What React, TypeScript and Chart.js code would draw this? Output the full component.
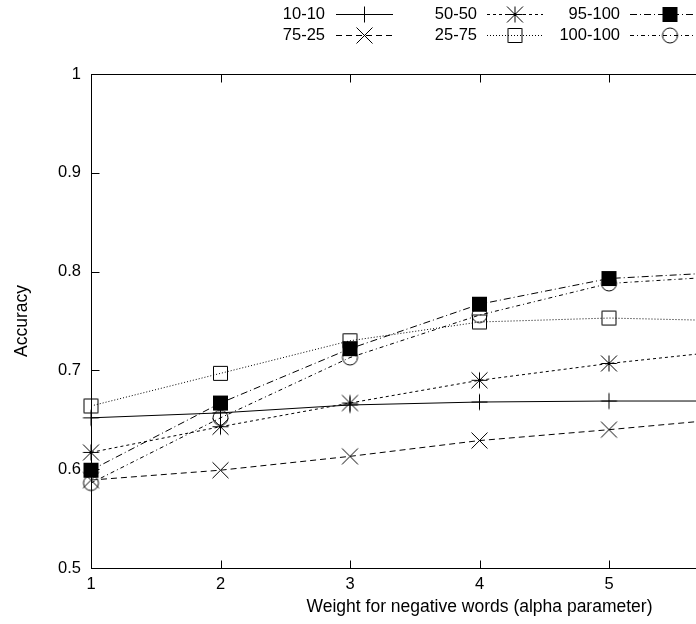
import React, { useEffect, useRef } from 'react';
import { Chart, registerables } from 'chart.js';

Chart.register(...registerables);

// ---- data ----
const alphaValues = [1, 2, 3, 4, 5, 6];
const seriesNames = ['10-10', '75-25', '50-50', '25-75', '95-100', '100-100'];
const acc10_10 = [0.652, 0.657, 0.665, 0.668, 0.669, 0.669];
const acc75_25 = [0.589, 0.599, 0.613, 0.629, 0.640, 0.652];
const acc50_50 = [0.617, 0.643, 0.667, 0.690, 0.707, 0.721];
const acc25_75 = [0.664, 0.697, 0.730, 0.749, 0.753, 0.750];
const acc95_100 = [0.599, 0.667, 0.722, 0.767, 0.793, 0.800];
const acc100_100 = [0.586, 0.652, 0.713, 0.756, 0.788, 0.796];
const xTickValues = [1, 2, 3, 4, 5, 6, 7];
const yTickValues = [0.5, 0.6, 0.7, 0.8, 0.9, 1];
const xTitle = 'Weight for negative words (alpha parameter)';
const yTitle = 'Accuracy';

const seriesValues = [acc10_10, acc75_25, acc50_50, acc25_75, acc95_100, acc100_100];
const seriesDash = [[], [6, 4], [3, 3], [1, 2], [7, 3, 1, 3], [4, 3, 1, 3]];
const seriesMarker = ['plus', 'x', 'star', 'square', 'filled', 'circle'];

const FONT_FAMILY = "'Liberation Sans', Arial, Helvetica, sans-serif";

function makeMarker(kind: string): HTMLCanvasElement {
  const c = document.createElement('canvas');
  c.width = 25;
  c.height = 25;
  const g = c.getContext('2d')!;
  g.strokeStyle = '#000';
  g.fillStyle = '#000';
  g.lineWidth = 1;
  const m = 12.5;
  const h = 8;
  g.beginPath();
  if (kind === 'plus' || kind === 'star') {
    g.moveTo(m, m - h);
    g.lineTo(m, m + h);
    g.moveTo(m - h, m);
    g.lineTo(m + h, m);
  }
  if (kind === 'x' || kind === 'star') {
    g.moveTo(m - h, m - h);
    g.lineTo(m + h, m + h);
    g.moveTo(m + h, m - h);
    g.lineTo(m - h, m + h);
  }
  if (kind === 'square') {
    g.rect(5.5, 5.5, 14, 14);
  }
  if (kind === 'circle') {
    g.arc(m, m, 7.5, 0, Math.PI * 2);
  }
  g.stroke();
  if (kind === 'filled') {
    g.fillRect(5, 5, 15, 15);
  }
  return c;
}

export default function App() {
  const ref = useRef<HTMLCanvasElement>(null);

  useEffect(() => {
    const canvas = ref.current;
    if (!canvas) return;
    const markers = seriesMarker.map(makeMarker);
    const tickFont = { family: FONT_FAMILY, size: 16.5 };
    const titleFont = { family: FONT_FAMILY, size: 17.5 };

    const framePlugin = {
      id: 'gnuFrame',
      beforeDatasetsDraw(chart: any) {
        const { ctx, chartArea } = chart;
        const xs = chart.scales.x;
        const ys = chart.scales.y;
        const L = Math.round(chartArea.left) + 0.5;
        const R = Math.round(chartArea.right) + 0.5;
        const T = Math.round(chartArea.top) + 0.5;
        const B = Math.round(chartArea.bottom) + 0.5;
        ctx.save();
        ctx.strokeStyle = '#000';
        ctx.lineWidth = 1;
        ctx.setLineDash([]);
        ctx.strokeRect(L, T, R - L, B - T);
        ctx.beginPath();
        const tl = 8;
        xTickValues.forEach((v) => {
          const px = Math.round(xs.getPixelForValue(v)) + 0.5;
          ctx.moveTo(px, B);
          ctx.lineTo(px, B - tl);
          ctx.moveTo(px, T);
          ctx.lineTo(px, T + tl);
        });
        yTickValues.forEach((v) => {
          const py = Math.round(ys.getPixelForValue(v)) + 0.5;
          ctx.moveTo(L, py);
          ctx.lineTo(L + tl, py);
          ctx.moveTo(R, py);
          ctx.lineTo(R - tl, py);
        });
        ctx.stroke();
        ctx.restore();
      },
    };

    const legendCols = [
      { textRight: 325, lineStart: 336, lineEnd: 393, marker: 364.5 },
      { textRight: 477, lineStart: 487, lineEnd: 543, marker: 515 },
      { textRight: 620, lineStart: 630, lineEnd: 712, marker: 670 },
    ];
    const legendRows = [14, 34.5];

    const legendPlugin = {
      id: 'gnuLegend',
      afterDraw(chart: any) {
        const { ctx } = chart;
        ctx.save();
        ctx.font = `16.5px ${FONT_FAMILY}`;
        ctx.fillStyle = '#000';
        ctx.textAlign = 'right';
        ctx.textBaseline = 'middle';
        seriesNames.forEach((name, i) => {
          const col = legendCols[Math.floor(i / 2)];
          const y = legendRows[i % 2];
          ctx.fillText(name, col.textRight, y + 0.5);
          ctx.beginPath();
          ctx.strokeStyle = '#000';
          ctx.lineWidth = 1;
          ctx.setLineDash(seriesDash[i]);
          ctx.moveTo(col.lineStart, Math.round(y) + 0.5);
          ctx.lineTo(col.lineEnd, Math.round(y) + 0.5);
          ctx.stroke();
          ctx.setLineDash([]);
          ctx.drawImage(markers[i], col.marker - 12.5, Math.round(y) + 0.5 - 12.5);
        });
        ctx.restore();
      },
    };

    const datasets = seriesNames.map((name, i) => ({
      label: name,
      data: alphaValues.map((a, j) => ({ x: a, y: seriesValues[i][j] })),
      borderColor: '#000',
      backgroundColor: 'rgba(0,0,0,0)',
      borderWidth: 1,
      borderDash: seriesDash[i],
      pointStyle: markers[i],
      pointRadius: 8,
      pointHoverRadius: 8,
      pointBorderColor: '#000',
      pointBackgroundColor: 'rgba(0,0,0,0)',
      fill: false,
      tension: 0,
      clip: false,
      order: -i,
    }));

    const chart = new Chart(canvas, {
      type: 'line',
      data: { datasets },
      options: {
        animation: false,
        responsive: false,
        devicePixelRatio: 1,
        events: [],
        layout: { padding: { left: 8, top: 74, right: 32, bottom: 0 } },
        plugins: {
          legend: { display: false },
          tooltip: { enabled: false },
        },
        scales: {
          x: {
            type: 'linear',
            min: 1,
            max: 7,
            grid: { display: false, drawTicks: false },
            border: { display: false },
            afterBuildTicks: (s: any) => {
              s.ticks = xTickValues.map((v) => ({ value: v }));
            },
            afterFit: (s: any) => {
              s.height = 56;
            },
            ticks: {
              padding: 7,
              font: tickFont,
              color: '#000',
              autoSkip: false,
              maxRotation: 0,
              callback: (v: any) => String(v),
            },
            title: {
              display: true,
              text: xTitle,
              font: titleFont,
              color: '#000',
              padding: { top: 0, bottom: 6 },
            },
          },
          y: {
            type: 'linear',
            min: 0.5,
            max: 1,
            grid: { display: false, drawTicks: false },
            border: { display: false },
            afterBuildTicks: (s: any) => {
              s.ticks = yTickValues.map((v) => ({ value: v }));
            },
            afterFit: (s: any) => {
              s.width = 83;
            },
            ticks: {
              padding: 10,
              font: tickFont,
              color: '#000',
              autoSkip: false,
              callback: (v: any) => String(Number(v)),
            },
            title: {
              display: true,
              text: yTitle,
              font: titleFont,
              color: '#000',
              padding: { top: 4, bottom: 0 },
            },
          },
        },
      },
      plugins: [framePlugin, legendPlugin],
    } as any);

    return () => chart.destroy();
  }, []);

  return (
    <div
      style={{
        position: 'absolute',
        left: 0,
        top: 0,
        width: 696,
        height: 624,
        overflow: 'hidden',
        background: '#fff',
      }}
    >
      <canvas ref={ref} width={900} height={624} style={{ display: 'block', width: 900, height: 624 }} />
    </div>
  );
}
